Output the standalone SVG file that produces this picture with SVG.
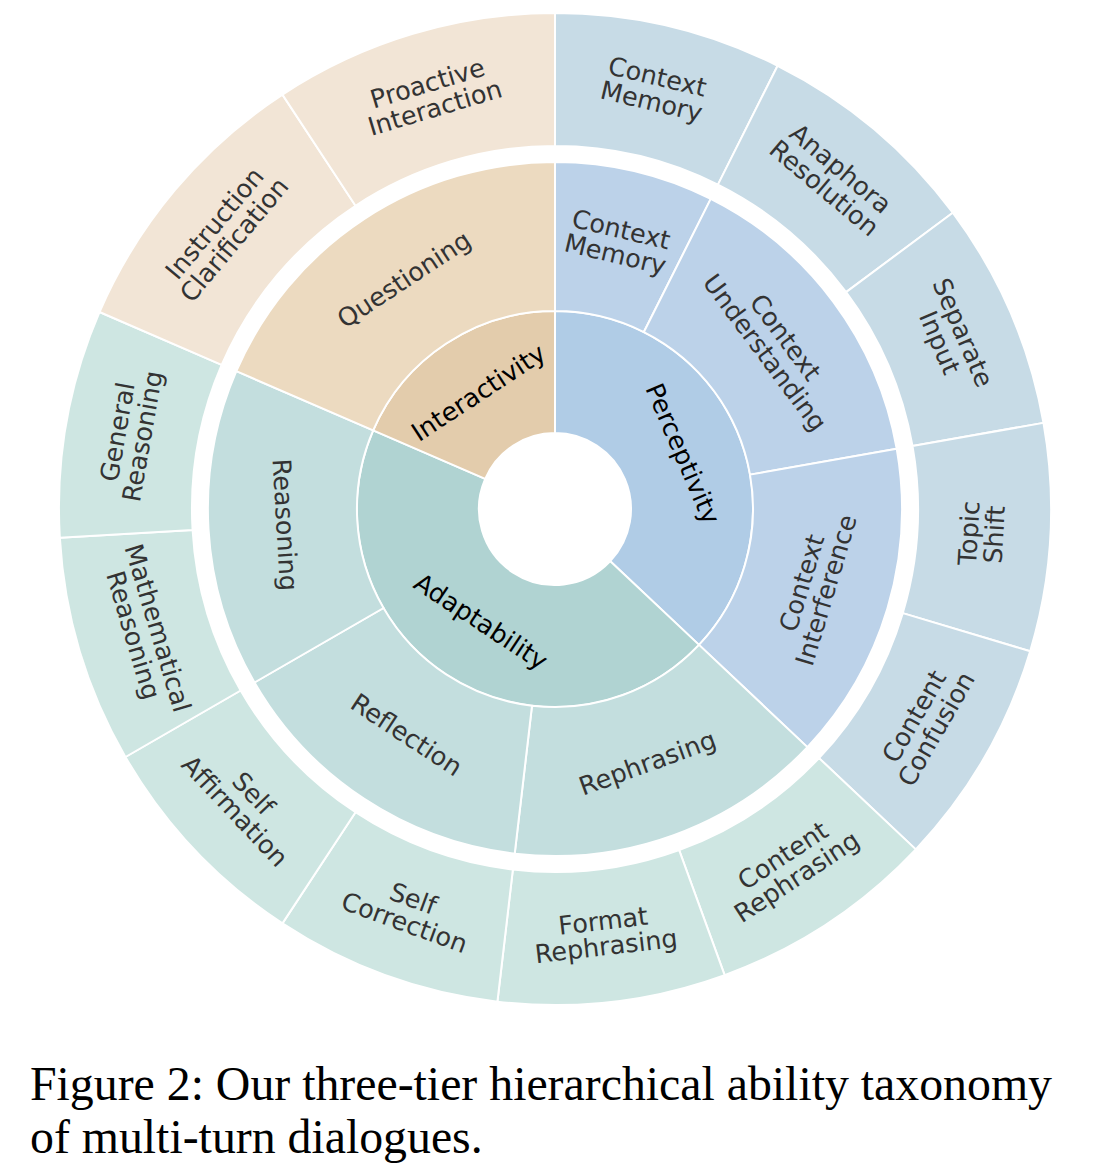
<svg xmlns="http://www.w3.org/2000/svg" width="1106" height="1170" viewBox="0 0 1106 1170">
<style>
.w{stroke:#fff;stroke-width:2;stroke-linejoin:round}
.p1{fill:#b0cce6}.p2{fill:#bcd2e9}.p3{fill:#c7dbe6}
.a1{fill:#b0d3d2}.a2{fill:#c3dede}.a3{fill:#cee6e2}
.i1{fill:#e3ccac}.i2{fill:#ecdac0}.i3{fill:#f2e5d6}
text.l{font-family:"DejaVu Sans",sans-serif;font-size:25.5px;fill:#333;text-anchor:middle}
text.l1{font-family:"DejaVu Sans",sans-serif;font-size:25.5px;fill:#000;text-anchor:middle}
text.cap{font-family:"Liberation Serif","Times New Roman",serif;font-size:47.8px;fill:#000}
</style>
<rect width="1106" height="1170" fill="#fff"/>
<g id="ring1">
<g id="perceptivity"><path class="w p1" d="M 555 311 A 198 198 0 0 1 699.02 644.88 L 610.28 561.15 A 76 76 0 0 0 555 433 Z"/><text class="l1" transform="translate(680.81 454.59) rotate(66.667)" y="6.6">Perceptivity</text></g>
<g id="adaptability"><path class="w a1" d="M 699.02 644.88 A 198 198 0 0 1 373.17 430.36 L 485.21 478.82 A 76 76 0 0 0 610.28 561.15 Z"/><text class="l1" transform="translate(479.72 623.46) rotate(33.333)" y="6.6">Adaptability</text></g>
<g id="interactivity"><path class="w i1" d="M 373.17 430.36 A 198 198 0 0 1 555 311 L 555 433 A 76 76 0 0 0 485.21 478.82 Z"/><text class="l1" transform="translate(479.72 394.54) rotate(-33.333)" y="6.6">Interactivity</text></g>
</g>
<g id="ring2">
<g id="context-memory-2"><path class="w p2" d="M 555 162 A 347 347 0 0 1 710.73 198.91 L 643.86 332.06 A 198 198 0 0 0 555 311 Z"/><text class="l" transform="translate(617.84 243.85) rotate(13.333)"><tspan x="0" y="-6">Context</tspan><tspan x="0" y="19.5">Memory</tspan></text></g>
<g id="context-understanding"><path class="w p2" d="M 710.73 198.91 A 347 347 0 0 1 896.73 448.74 L 749.99 474.62 A 198 198 0 0 0 643.86 332.06 Z"/><text class="l" transform="translate(773.53 346.21) rotate(53.333)"><tspan x="0" y="-6">Context</tspan><tspan x="0" y="19.5">Understanding</tspan></text></g>
<g id="context-interference"><path class="w p2" d="M 896.73 448.74 A 347 347 0 0 1 807.40 747.13 L 699.02 644.88 A 198 198 0 0 0 749.99 474.62 Z"/><text class="l" transform="translate(816.05 587.15) rotate(-73.333)"><tspan x="0" y="-6">Context</tspan><tspan x="0" y="19.5">Interference</tspan></text></g>
<g id="rephrasing"><path class="w a2" d="M 807.40 747.13 A 347 347 0 0 1 514.72 853.65 L 532.01 705.66 A 198 198 0 0 0 699.02 644.88 Z"/><text class="l" transform="translate(648.2 765.07) rotate(-20)" y="6.6">Rephrasing</text></g>
<g id="reflection"><path class="w a2" d="M 514.72 853.65 A 347 347 0 0 1 254.49 682.5 L 383.53 608 A 198 198 0 0 0 532.01 705.66 Z"/><text class="l" transform="translate(405.26 736.67) rotate(33.333)" y="6.6">Reflection</text></g>
<g id="reasoning"><path class="w a2" d="M 254.49 682.5 A 347 347 0 0 1 236.34 371.19 L 373.17 430.36 A 198 198 0 0 0 383.53 608 Z"/><text class="l" transform="translate(282.96 524.84) rotate(86.667)" y="6.6">Reasoning</text></g>
<g id="questioning"><path class="w i2" d="M 236.34 371.19 A 347 347 0 0 1 555 162 L 555 311 A 198 198 0 0 0 373.17 430.36 Z"/><text class="l" transform="translate(405.26 281.33) rotate(-33.333)" y="6.6">Questioning</text></g>
</g>
<g id="ring3">
<g id="context-memory-3"><path class="w p3" d="M 555 13 A 496 496 0 0 1 777.60 65.76 L 717.91 184.61 A 363 363 0 0 0 555 146 Z"/><text class="l" transform="translate(654.05 91.08) rotate(13.333)"><tspan x="0" y="-6">Context</tspan><tspan x="0" y="19.5">Memory</tspan></text></g>
<g id="anaphora-resolution"><path class="w p3" d="M 777.60 65.76 A 496 496 0 0 1 952.77 212.69 L 846.11 292.15 A 363 363 0 0 0 717.91 184.61 Z"/><text class="l" transform="translate(831.08 179.99) rotate(40)"><tspan x="0" y="-6">Anaphora</tspan><tspan x="0" y="19.5">Resolution</tspan></text></g>
<g id="separate-input"><path class="w p3" d="M 952.77 212.69 A 496 496 0 0 1 1043.47 422.87 L 912.49 445.97 A 363 363 0 0 0 846.11 292.15 Z"/><text class="l" transform="translate(949.42 338.42) rotate(66.667)"><tspan x="0" y="-6">Separate</tspan><tspan x="0" y="19.5">Input</tspan></text></g>
<g id="topic-shift"><path class="w p3" d="M 1043.47 422.87 A 496 496 0 0 1 1030.16 651.25 L 902.75 613.11 A 363 363 0 0 0 912.49 445.97 Z"/><text class="l" transform="translate(983.77 533.97) rotate(-86.667)"><tspan x="0" y="-6">Topic</tspan><tspan x="0" y="19.5">Shift</tspan></text></g>
<g id="content-confusion"><path class="w p3" d="M 1030.16 651.25 A 496 496 0 0 1 915.78 849.38 L 819.04 758.11 A 363 363 0 0 0 902.75 613.11 Z"/><text class="l" transform="translate(926.96 723.75) rotate(-60)"><tspan x="0" y="-6">Content</tspan><tspan x="0" y="19.5">Confusion</tspan></text></g>
<g id="content-rephrasing"><path class="w a3" d="M 915.78 849.38 A 496 496 0 0 1 724.64 975.09 L 679.15 850.11 A 363 363 0 0 0 819.04 758.11 Z"/><text class="l" transform="translate(791.01 867.84) rotate(-33.333)"><tspan x="0" y="-6">Content</tspan><tspan x="0" y="19.5">Rephrasing</tspan></text></g>
<g id="format-rephrasing"><path class="w a3" d="M 724.64 975.09 A 496 496 0 0 1 497.42 1001.65 L 512.86 869.55 A 363 363 0 0 0 679.15 850.11 Z"/><text class="l" transform="translate(604.86 935.60) rotate(-6.667)"><tspan x="0" y="-6">Format</tspan><tspan x="0" y="19.5">Rephrasing</tspan></text></g>
<g id="self-correction"><path class="w a3" d="M 497.42 1001.65 A 496 496 0 0 1 282.44 923.40 L 355.53 812.28 A 363 363 0 0 0 512.86 869.55 Z"/><text class="l" transform="translate(408.10 912.60) rotate(20)"><tspan x="0" y="-6">Self</tspan><tspan x="0" y="19.5">Correction</tspan></text></g>
<g id="self-affirmation"><path class="w a3" d="M 282.44 923.40 A 496 496 0 0 1 125.45 757 L 240.63 690.5 A 363 363 0 0 0 355.53 812.28 Z"/><text class="l" transform="translate(242.59 803.74) rotate(46.667)"><tspan x="0" y="-6">Self</tspan><tspan x="0" y="19.5">Affirmation</tspan></text></g>
<g id="mathematical-reasoning"><path class="w a3" d="M 125.45 757 A 496 496 0 0 1 59.84 537.84 L 192.61 530.11 A 363 363 0 0 0 240.63 690.5 Z"/><text class="l" transform="translate(143.54 632.18) rotate(73.333)"><tspan x="0" y="-6">Mathematical</tspan><tspan x="0" y="19.5">Reasoning</tspan></text></g>
<g id="general-reasoning"><path class="w a3" d="M 59.84 537.84 A 496 496 0 0 1 99.51 312.01 L 221.65 364.83 A 363 363 0 0 0 192.61 530.11 Z"/><text class="l" transform="translate(132.02 434.42) rotate(-80)"><tspan x="0" y="-6">General</tspan><tspan x="0" y="19.5">Reasoning</tspan></text></g>
<g id="instruction-clarification"><path class="w i3" d="M 99.51 312.01 A 496 496 0 0 1 282.44 94.60 L 355.53 205.72 A 363 363 0 0 0 221.65 364.83 Z"/><text class="l" transform="translate(225.99 232.92) rotate(-50)"><tspan x="0" y="-6">Instruction</tspan><tspan x="0" y="19.5">Clarification</tspan></text></g>
<g id="proactive-interaction"><path class="w i3" d="M 282.44 94.60 A 496 496 0 0 1 555 13 L 555 146 A 363 363 0 0 0 355.53 205.72 Z"/><text class="l" transform="translate(431.82 97.54) rotate(-16.667)"><tspan x="0" y="-6">Proactive</tspan><tspan x="0" y="19.5">Interaction</tspan></text></g>
</g>
<g id="connectors"/>
<g id="caption">
<text class="cap" x="30" y="1100">Figure 2: Our three-tier hierarchical ability taxonomy</text>
<text class="cap" x="30" y="1153">of multi-turn dialogues.</text>
</g>
</svg>
